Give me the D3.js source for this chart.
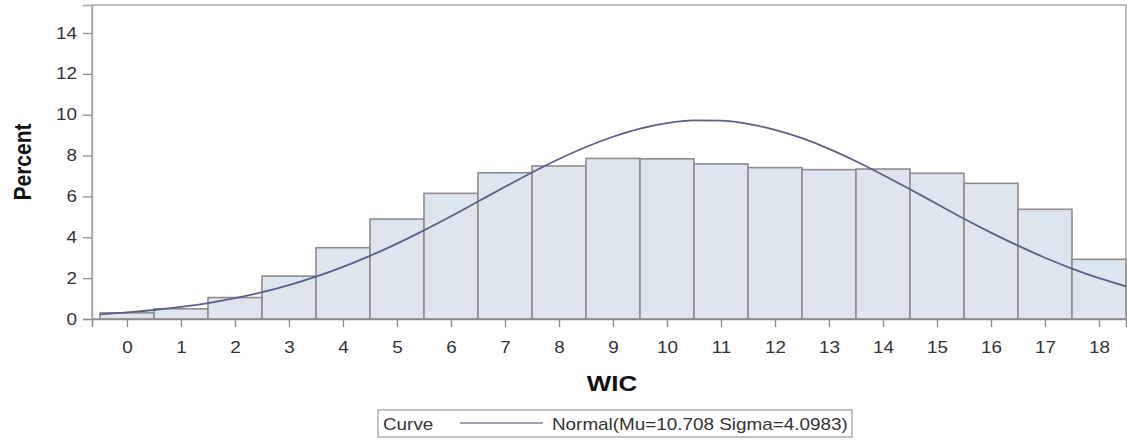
<!DOCTYPE html>
<html>
<head>
<meta charset="utf-8">
<script src="https://cdn.jsdelivr.net/npm/d3@7"></script>
<style>
  html, body { margin: 0; padding: 0; background: #ffffff; }
  svg { display: block; }
  text { font-family: "Liberation Sans", Arial, sans-serif; }
</style>
</head>
<body>
<svg id="chart" width="1127" height="440"></svg>
<script>
// ---- data ----
const categories = [0, 1, 2, 3, 4, 5, 6, 7, 8, 9, 10, 11, 12, 13, 14, 15, 16, 17, 18];
const percents = [0.30, 0.50, 1.05, 2.10, 3.49, 4.89, 6.15, 7.16, 7.49, 7.86, 7.84, 7.59, 7.41, 7.31, 7.34, 7.13, 6.64, 5.37, 2.92];
const yTickValues = [0, 2, 4, 6, 8, 10, 12, 14];
const xTickLabels = ["0","1","2","3","4","5","6","7","8","9","10","11","12","13","14","15","16","17","18"];
// fitted normal curve (Percent at each WIC position)
const curveX = [-0.5, 0, 0.5, 1, 1.5, 2, 2.5, 3, 3.5, 4, 4.5, 5, 5.5, 6, 6.5, 7, 7.5, 8, 8.5, 9, 9.5,
                10, 10.5, 11, 11.5, 12, 12.5, 13, 13.5, 14, 14.5, 15, 15.5, 16, 16.5, 17, 17.5, 18, 18.5];
const curveY = [0.23, 0.32, 0.44, 0.59, 0.78, 1.02, 1.31, 1.66, 2.07, 2.55, 3.09, 3.69, 4.34, 5.03, 5.75, 6.47, 7.17, 7.83, 8.42, 8.92, 9.32,
                9.59, 9.72, 9.71, 9.55, 9.26, 8.85, 8.33, 7.72, 7.05, 6.35, 5.63, 4.91, 4.23, 3.59, 3.00, 2.47, 2.00, 1.60];
const xLabel = "WIC";
const yLabel = "Percent";
const legendTitle = "Curve";
const legendText = "Normal(Mu=10.708 Sigma=4.0983)";

// ---- layout ----
const SX = 1.18; // horizontal text stretch seen in the reference
const svg = d3.select("#chart");
const plotL = 92, plotR = 1126, plotT = 5, plotB = 319;

const x = d3.scaleLinear().domain([-0.648, 18.5]).range([plotL, plotR]);
const y = d3.scaleLinear().domain([0, 15.37]).range([plotB, plotT]);

// frame
svg.append("rect")
  .attr("x", plotL).attr("y", plotT)
  .attr("width", plotR - plotL).attr("height", plotB - plotT)
  .attr("fill", "#ffffff")
  .attr("stroke", "#a9a9a9").attr("stroke-width", 1.5);

// bars
svg.append("g").selectAll("rect")
  .data(categories)
  .join("rect")
  .attr("x", (d) => x(d - 0.5))
  .attr("width", (d) => x(d + 0.5) - x(d - 0.5))
  .attr("y", (d, i) => y(percents[i]))
  .attr("height", (d, i) => y(0) - y(percents[i]))
  .attr("fill", "#dfe5ef")
  .attr("stroke", "#8c8c8c")
  .attr("stroke-width", 1.6);

// curve
const line = d3.line()
  .x((d, i) => x(curveX[i]))
  .y((d) => y(d))
  .curve(d3.curveMonotoneX);
svg.append("path")
  .datum(curveY)
  .attr("d", line)
  .attr("fill", "none")
  .attr("stroke", "#5c6088")
  .attr("stroke-width", 1.8);

// y axis
const yAxis = svg.append("g")
  .attr("transform", `translate(${plotL},0)`)
  .call(d3.axisLeft(y).tickValues(yTickValues).tickSize(9).tickPadding(6).tickFormat(d3.format("d")));
yAxis.select(".domain").attr("stroke", "#a9a9a9").attr("stroke-width", 1.5);
yAxis.selectAll(".tick line").attr("stroke", "#8c8c8c").attr("stroke-width", 1.3);
yAxis.selectAll(".tick text")
  .attr("font-size", 16).attr("fill", "#333333")
  .attr("x", -15 / SX)
  .attr("transform", `scale(${SX},1)`);

// x axis
const xAxis = svg.append("g")
  .attr("transform", `translate(0,${plotB})`)
  .call(d3.axisBottom(x).tickValues(categories).tickSize(8).tickPadding(15).tickFormat((d, i) => xTickLabels[i]));
xAxis.select(".domain").attr("stroke", "#8c8c8c").attr("stroke-width", 1.6);
xAxis.selectAll(".tick line").attr("stroke", "#8c8c8c").attr("stroke-width", 1.3);
xAxis.selectAll(".tick text")
  .attr("font-size", 16).attr("fill", "#333333")
  .attr("transform", `scale(${SX},1)`);

// axis titles
svg.append("text")
  .attr("transform", `translate(31,162) rotate(-90) scale(1,${SX})`)
  .attr("text-anchor", "middle")
  .attr("font-size", 21).attr("font-weight", "bold").attr("fill", "#111111")
  .text(yLabel);

svg.append("text")
  .attr("transform", `translate(612,391) scale(${SX},1)`)
  .attr("text-anchor", "middle")
  .attr("font-size", 22).attr("font-weight", "bold").attr("fill", "#111111")
  .text(xLabel);

// legend
const lg = svg.append("g");
lg.append("rect")
  .attr("x", 378).attr("y", 410).attr("width", 474).attr("height", 27)
  .attr("fill", "#ffffff").attr("stroke", "#a0a0a0").attr("stroke-width", 1.3);
lg.append("text")
  .attr("transform", `translate(383,430) scale(${SX},1)`)
  .attr("font-size", 16).attr("fill", "#333333")
  .text(legendTitle);
lg.append("line")
  .attr("x1", 460).attr("x2", 543).attr("y1", 423).attr("y2", 423)
  .attr("stroke", "#7d80a4").attr("stroke-width", 1.6);
lg.append("text")
  .attr("transform", `translate(552,430) scale(${SX},1)`)
  .attr("font-size", 16).attr("fill", "#333333")
  .text(legendText);
</script>
</body>
</html>
